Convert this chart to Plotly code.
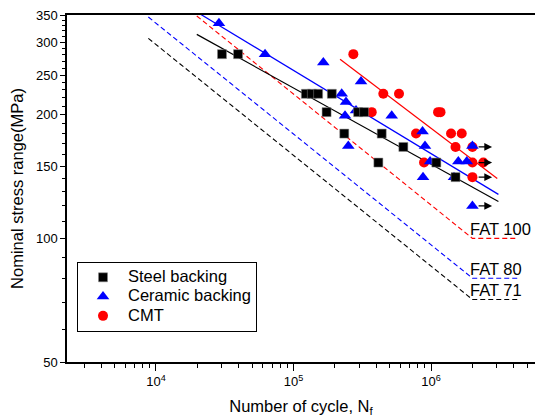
import numpy as np
import plotly.graph_objects as go

# ---------------- data ----------------
steel_N = [30200, 39500, 123000, 136000, 151000, 190000, 174000, 234000, 295000, 326000,
           438000, 629000, 414000, 1093000, 1507000]
steel_S = [281, 281, 225, 225, 225, 225, 203, 180, 203, 203, 180, 167, 153, 153, 141]

ceramic_N = [28700, 62100, 164700, 309700, 224100, 240900, 284800, 236900, 517700, 250300,
             867400, 904000, 984000, 1579000, 1820000, 874700, 1469000, 2000000, 2000000]
ceramic_S = [334, 281, 268, 241, 225, 215, 205, 199, 199, 168,
             182, 168, 154, 154, 154, 141, 141, 168, 120]

cmt_N = [272300, 449800, 584900, 370400, 1125000, 1172000, 778000, 1398000, 1672000,
         1507000, 2000000, 889500, 2000000, 2400000, 2000000]
cmt_S = [281, 225, 225, 203, 203, 203, 180, 180, 180, 167, 167, 153, 153, 153, 141]

# fitted S-N lines (end points)
fit_N = [19800, 3090000]
steel_fit_S = [314, 123]
ceramic_fit_S = [356, 128]
cmt_fit_N = [218000, 3030000]
cmt_fit_S = [273, 140]

# FAT design curves
fat_labels = ["FAT 100", "FAT 80", "FAT 71"]
fat_values = [100, 80, 71]
fat_colors = ["red", "blue", "black"]
fat_N = [[19800, 2000000, 4300000], [8800, 2000000, 4300000], [8800, 2000000, 4300000]]
fat_S = [[348, 100, 100], [346, 80, 80], [307, 71, 71]]

# run-outs (arrows)
runout_N = [2000000, 2000000, 2000000, 2000000]
runout_S = [167, 153, 141, 120]

FONT = "Liberation Sans, Arial, sans-serif"


def big(t):
    return '<span style="font-size:16.5px">' + t + '</span>'


fig = go.Figure()

# FAT lines
for lab, fN, fS, col in zip(fat_labels, fat_N, fat_S, fat_colors):
    fig.add_trace(go.Scatter(x=fN, y=fS, mode="lines", showlegend=False,
                             line=dict(color=col, width=1.1, dash="5px,3px"), hoverinfo="skip"))

# fit lines
fig.add_trace(go.Scatter(x=fit_N, y=steel_fit_S, mode="lines", showlegend=False,
                         line=dict(color="black", width=1.2)))
fig.add_trace(go.Scatter(x=fit_N, y=ceramic_fit_S, mode="lines", showlegend=False,
                         line=dict(color="blue", width=1.2)))
fig.add_trace(go.Scatter(x=cmt_fit_N, y=cmt_fit_S, mode="lines", showlegend=False,
                         line=dict(color="red", width=1.2)))

# markers (CMT bottom, steel on top)
fig.add_trace(go.Scatter(x=cmt_N, y=cmt_S, mode="markers", name=big("CMT"),
                         marker=dict(symbol="circle", size=10, color="red")))
fig.add_trace(go.Scatter(x=ceramic_N, y=ceramic_S, mode="markers", name=big("Ceramic backing"),
                         marker=dict(symbol="triangle-up", size=11, color="blue")))
fig.add_trace(go.Scatter(x=steel_N, y=steel_S, mode="markers", name=big("Steel backing"),
                         marker=dict(symbol="square", size=9, color="black",
                                     line=dict(color="#888", width=0.5))))

annotations = []
for lab, v in zip(fat_labels, fat_values):
    annotations.append(dict(x=np.log10(2000000), y=np.log10(v), xref="x", yref="y",
                            text=lab, showarrow=False, xanchor="left", yanchor="middle",
                            xshift=-4, yshift=9, font=dict(family=FONT, size=16.5, color="black")))
for n, s in zip(runout_N, runout_S):
    annotations.append(dict(x=np.log10(n) + 0.143, y=np.log10(s), xref="x", yref="y",
                            ax=-15, ay=0, text="", showarrow=True, arrowhead=2,
                            arrowsize=1.3, arrowwidth=1.2, arrowcolor="black"))

x_minor = [v * 10 ** e for e in (3, 4, 5) for v in range(2, 10)] + [2e6, 3e6, 4e6, 5e6]
x_minor = [v for v in x_minor if v > 2300]
y_minor = [v for v in range(60, 350, 10) if v % 50 != 0]

fig.update_layout(
    width=535, height=419,
    margin=dict(l=67, r=0, t=15, b=57),
    plot_bgcolor="white", paper_bgcolor="white",
    font=dict(family=FONT, color="black", size=13),
    showlegend=True,
    legend=dict(x=0.0214, y=0.289, xanchor="left", yanchor="top",
                bgcolor="white", bordercolor="black", borderwidth=1,
                font=dict(family=FONT, size=12.5), traceorder="reversed",
                itemsizing="trace", itemwidth=40),
    annotations=annotations,
    xaxis=dict(type="log", range=[3.353, 6.756], showgrid=False, zeroline=False,
               showline=True, linecolor="black", linewidth=1.5, mirror=True,
               ticks="outside", ticklen=7, tickwidth=1, tickcolor="black",
               tickvals=[1e4, 1e5, 1e6],
               ticktext=["10<sup>4</sup>", "10<sup>5</sup>", "10<sup>6</sup>"],
               tickfont=dict(family=FONT, size=13),
               minor=dict(tickvals=x_minor, ticklen=4, tickwidth=1, tickcolor="black", ticks="outside"),
               title=dict(text="Number of cycle, N<sub>f</sub>", font=dict(family=FONT, size=16.5),
                          standoff=12)),
    yaxis=dict(type="log", range=[np.log10(50), np.log10(350)], showgrid=False, zeroline=False,
               showline=True, linecolor="black", linewidth=1.5, mirror=False,
               ticks="outside", ticklen=5, tickwidth=1, tickcolor="black",
               tickvals=[50, 100, 150, 200, 250, 300, 350],
               tickfont=dict(family=FONT, size=13),
               minor=dict(tickvals=y_minor, ticklen=3, tickwidth=1, tickcolor="black", ticks="outside"),
               title=dict(text="Nominal stress range(MPa)", font=dict(family=FONT, size=16.5),
                          standoff=8)),
)

fig.write_html("out.html")
